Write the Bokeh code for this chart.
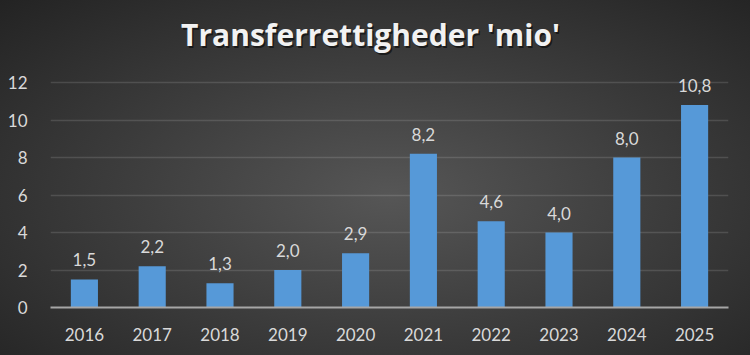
from bokeh.plotting import figure
from bokeh.models import ColumnDataSource, LabelSet, Label, Range1d, FixedTicker, FactorRange
from bokeh.core.properties import value
from bokeh.embed import file_html
from bokeh.resources import INLINE

title_text = "Transferrettigheder 'mio'"
years = ["2016", "2017", "2018", "2019", "2020", "2021", "2022", "2023", "2024", "2025"]
values = [1.5, 2.2, 1.3, 2.0, 2.9, 8.2, 4.6, 4.0, 8.0, 10.8]
labels = [f"{v:.1f}".replace(".", ",") for v in values]
y_ticks = [0, 2, 4, 6, 8, 10, 12]

FONT = "Lato"
TXT = "#d9d9d9"

src = ColumnDataSource(dict(year=years, value=values, label=labels))

# The y range reaches above the top tick (12) so that the title and value labels
# sit inside the frame; only ticks 0..12 get gridlines and labels.
p = figure(
    width=750, height=355,
    x_range=FactorRange(*years, range_padding=0),
    y_range=Range1d(0, 16),
    output_backend="svg", toolbar_location=None,
    min_border_left=50, min_border_right=22, min_border_top=7, min_border_bottom=48,
)
p.background_fill_alpha = 0
p.border_fill_alpha = 0
p.outline_line_color = None

for dx, dy, col, alpha in ((1.5, -2, "#000000", 0.55), (0, 0, "#f2f2f2", 1.0)):
    p.add_layout(Label(x=4.72, y=14.55, x_offset=dx, y_offset=dy,
                       text=title_text, text_align="center", text_baseline="alphabetic",
                       text_font="Open Sans", text_font_size="30px", text_font_style="bold",
                       text_color=col, text_alpha=alpha))

p.vbar(x="year", top="value", width=0.4, source=src, fill_color="#5699d8", line_color=None)

p.add_layout(LabelSet(x="year", y="value", text="label", source=src,
                      text_align="center", text_baseline="alphabetic", y_offset=13,
                      text_font=value(FONT), text_font_size=value("17px"), text_color=TXT))

p.xgrid.grid_line_color = None
p.ygrid.grid_line_color = "#ffffff"
p.ygrid.grid_line_alpha = 0.13
p.ygrid.grid_line_width = 1.5
p.yaxis.ticker = FixedTicker(ticks=y_ticks)

for ax in (p.xaxis[0], p.yaxis[0]):
    ax.major_tick_line_color = None
    ax.minor_tick_line_color = None
    ax.major_label_text_font = FONT
    ax.major_label_text_font_size = "17px"
    ax.major_label_text_color = TXT
p.yaxis.axis_line_color = None
p.yaxis.major_label_standoff = 17
p.xaxis.axis_line_color = "#a6a6a6"
p.xaxis.axis_line_width = 2
p.xaxis.major_label_standoff = 14

html = file_html(p, INLINE)
style = ("<style>html{min-height:100%;background:radial-gradient(ellipse at 52% 55%,"
         "#565656 0%,#3c3c3c 50%,#232323 100%);}body{background:transparent;}</style>")
html = html.replace("<head>", "<head>" + style, 1)
open("out.html", "w").write(html)
